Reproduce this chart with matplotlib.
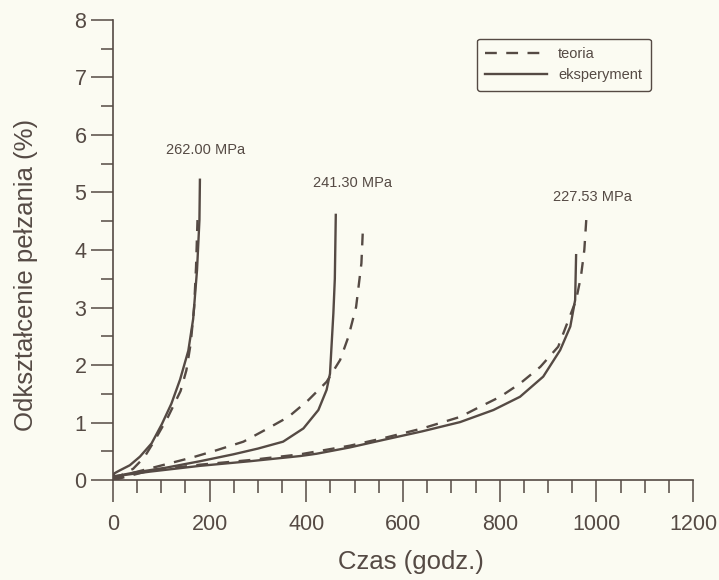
import matplotlib.pyplot as plt
from matplotlib.ticker import MultipleLocator

# dane (czas w godz., odkształcenie w %)
t_exp_262 = [0, 3, 14, 35, 56, 80, 101, 121, 139, 156, 166, 174, 179, 180]
e_exp_262 = [0, 0.12, 0.17, 0.26, 0.41, 0.64, 0.97, 1.33, 1.75, 2.25, 2.8, 3.65, 4.52, 5.22]
t_teo_262 = [0, 20, 42, 65, 87, 114, 140, 152, 161, 168, 172, 175]
e_teo_262 = [0, 0.1, 0.2, 0.4, 0.70, 1.10, 1.55, 1.91, 2.38, 3.0, 3.71, 4.52]

t_exp_241 = [0, 5, 42, 111, 180, 249, 300, 352, 394, 425, 442, 449, 452, 456, 459, 461]
e_exp_241 = [0, 0.07, 0.13, 0.22, 0.33, 0.45, 0.55, 0.67, 0.90, 1.22, 1.57, 1.85, 2.3, 2.9, 3.5, 4.61]
t_teo_241 = [0, 42, 111, 166, 214, 270, 314, 363, 404, 442, 470, 487, 503, 514, 517]
e_teo_241 = [0, 0.13, 0.28, 0.40, 0.52, 0.67, 0.87, 1.10, 1.39, 1.71, 2.09, 2.49, 3.01, 3.77, 4.35]

t_exp_227 = [0, 5, 77, 180, 283, 387, 421, 490, 559, 640, 718, 787, 842, 890, 925, 946, 956, 958]
e_exp_227 = [0, 0.07, 0.15, 0.25, 0.33, 0.42, 0.46, 0.57, 0.70, 0.85, 1.01, 1.22, 1.45, 1.80, 2.26, 2.67, 3.13, 3.91]
t_teo_227 = [0, 77, 180, 283, 387, 490, 559, 640, 718, 753, 801, 842, 884, 921, 958, 968, 975, 979]
e_teo_227 = [0, 0.17, 0.27, 0.35, 0.45, 0.60, 0.73, 0.90, 1.10, 1.25, 1.45, 1.68, 1.97, 2.32, 3.13, 3.54, 4.0, 4.52]

labels = ['262.00 MPa', '241.30 MPa', '227.53 MPa']
label_x = [192, 495, 991]
label_y = [5.74, 5.17, 4.92]

kolor = '#554a44'
tlo = '#fbfbf2'
plt.rcParams['font.family'] = ['Liberation Sans', 'DejaVu Sans']

fig = plt.figure(figsize=(7.19, 5.8), dpi=100, facecolor=tlo)
ax = fig.add_axes([0.157, 0.172, 0.807, 0.794], facecolor=tlo)

teo = [(t_teo_262, e_teo_262), (t_teo_241, e_teo_241), (t_teo_227, e_teo_227)]
exp = [(t_exp_262, e_exp_262), (t_exp_241, e_exp_241), (t_exp_227, e_exp_227)]
for i in range(3):
    ax.plot(teo[i][0], teo[i][1], color=kolor, lw=1.7, dashes=(5, 4),
            label='teoria' if i == 0 else None)
    ax.plot(exp[i][0], exp[i][1], color=kolor, lw=1.7,
            label='eksperyment' if i == 0 else None)
    ax.text(label_x[i], label_y[i], labels[i], ha='center', va='center',
            fontsize=10.5, color=kolor)

ax.set_xlim(0, 1200)
ax.set_ylim(0, 8)
ax.set_xticks([0, 200, 400, 600, 800, 1000, 1200])
ax.xaxis.set_minor_locator(MultipleLocator(50))
ax.yaxis.set_major_locator(MultipleLocator(1))
ax.yaxis.set_minor_locator(MultipleLocator(0.5))

for s in ['top', 'right']:
    ax.spines[s].set_visible(False)
for s in ['left', 'bottom']:
    ax.spines[s].set_color(kolor)
    ax.spines[s].set_linewidth(1.2)

ax.tick_params(axis='both', which='major', direction='out', length=16,
               width=1.1, color=kolor, labelcolor=kolor, labelsize=15.5)
ax.tick_params(axis='x', which='major', pad=8)
ax.tick_params(axis='y', which='major', pad=3)
ax.tick_params(axis='both', which='minor', direction='out', length=9,
               width=1.1, color=kolor)

ax.set_xlabel('Czas (godz.)', fontsize=18.5, color=kolor)
ax.set_ylabel('Odkształcenie pełzania (%)', fontsize=18.5, color=kolor)
ax.xaxis.set_label_coords(0.514, -0.152)
ax.yaxis.set_label_coords(-0.129, 0.446)

leg = ax.legend(loc='upper right', bbox_to_anchor=(0.94, 0.975), fontsize=10.5,
                frameon=True, fancybox=True, handlelength=4.2,
                labelcolor=kolor, borderpad=0.6, labelspacing=0.45)
leg.get_frame().set_edgecolor(kolor)
leg.get_frame().set_facecolor(tlo)
leg.get_frame().set_alpha(1)
leg.get_frame().set_linewidth(1.0)

fig.savefig('out.png', dpi=100, facecolor=tlo)
